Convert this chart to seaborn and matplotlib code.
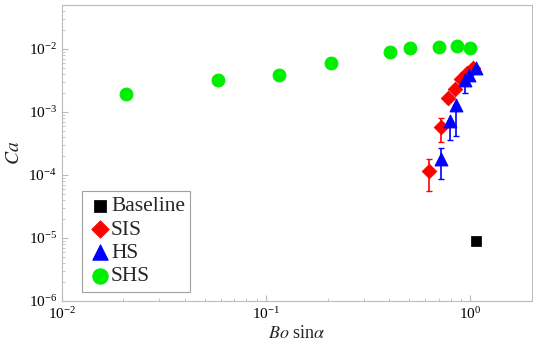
import numpy as np
import pandas as pd
import matplotlib
matplotlib.use('Agg')
import matplotlib.pyplot as plt
import seaborn as sns

# data
shs_x = [0.0207, 0.058, 0.116, 0.207, 0.405, 0.506, 0.70, 0.855, 0.99]
shs_y = [0.00193, 0.0032, 0.0039, 0.0060, 0.0088, 0.0104, 0.0108, 0.0110, 0.0102]

sis_x = [0.625, 0.714, 0.78, 0.836, 0.90, 0.96, 1.03]
sis_y = [1.16e-4, 5.8e-4, 1.65e-3, 2.3e-3, 3.3e-3, 4.2e-3, 5.0e-3]
sis_lo = [5.6e-5, 3.3e-4, 1.65e-3, 2.3e-3, 3.3e-3, 4.2e-3, 5.0e-3]
sis_hi = [1.8e-4, 8.0e-4, 1.65e-3, 2.3e-3, 3.3e-3, 4.2e-3, 5.0e-3]

hs_x = [0.72, 0.79, 0.85, 0.94, 0.98, 1.06]
hs_y = [1.8e-4, 7.3e-4, 1.3e-3, 3.2e-3, 3.9e-3, 4.9e-3]
hs_lo = [8.5e-5, 3.6e-4, 4.2e-4, 2.0e-3, 3.9e-3, 4.9e-3]
hs_hi = [2.7e-4, 7.3e-4, 1.3e-3, 3.2e-3, 3.9e-3, 4.9e-3]

base_x = [1.07]
base_y = [8.8e-6]

sns.set_style('white')
plt.rcParams['font.family'] = ['Liberation Serif', 'DejaVu Serif']
plt.rcParams['mathtext.fontset'] = 'stix'

fig = plt.figure(figsize=(5.33, 3.48), dpi=100)
ax = fig.add_axes([0.116, 0.135, 0.882, 0.851])

ax.errorbar(sis_x, sis_y,
            yerr=[np.array(sis_y) - np.array(sis_lo), np.array(sis_hi) - np.array(sis_y)],
            fmt='none', ecolor='red', elinewidth=1.2, capsize=2.5)
ax.errorbar(hs_x, hs_y,
            yerr=[np.array(hs_y) - np.array(hs_lo), np.array(hs_hi) - np.array(hs_y)],
            fmt='none', ecolor='blue', elinewidth=1.2, capsize=2.5)

sns.scatterplot(x=base_x, y=base_y, marker='s', color='black', s=45,
                edgecolor='black', label='Baseline', ax=ax, zorder=3)
sns.scatterplot(x=sis_x, y=sis_y, marker='D', color='red', s=55,
                edgecolor='red', label='SIS', ax=ax, zorder=3)
sns.scatterplot(x=hs_x, y=hs_y, marker='^', color='blue', s=85,
                edgecolor='blue', label='HS', ax=ax, zorder=4)
sns.scatterplot(x=shs_x, y=shs_y, marker='o', color='#00ee00', s=85,
                edgecolor='#00ee00', label='SHS', ax=ax, zorder=3)

ax.set_xscale('log')
ax.set_yscale('log')
ax.set_xlim(0.01, 2)
ax.set_ylim(1e-6, 0.05)

for s in ax.spines.values():
    s.set_color('#bbbbbb')
    s.set_linewidth(0.8)
ax.tick_params(which='both', direction='in', colors='#bbbbbb', labelcolor='black',
               labelsize=11, bottom=True, left=True, top=False, right=False)
ax.tick_params(which='major', length=4, width=0.8)
ax.tick_params(which='minor', length=2, width=0.6)

ax.set_xlabel(r'$Bo$ sin$\alpha$', fontsize=13, labelpad=2)
ax.set_ylabel(r'$Ca$', fontsize=14, labelpad=4)

leg = ax.legend(loc='lower left', bbox_to_anchor=(0.02, -0.005), fontsize=15.5,
                frameon=True, fancybox=False, edgecolor='#888888',
                handletextpad=-0.1, borderpad=0.25, labelspacing=0.15,
                handlelength=1.2, markerscale=1.2)
leg.get_frame().set_linewidth(0.8)

fig.savefig('out.png', dpi=100)
